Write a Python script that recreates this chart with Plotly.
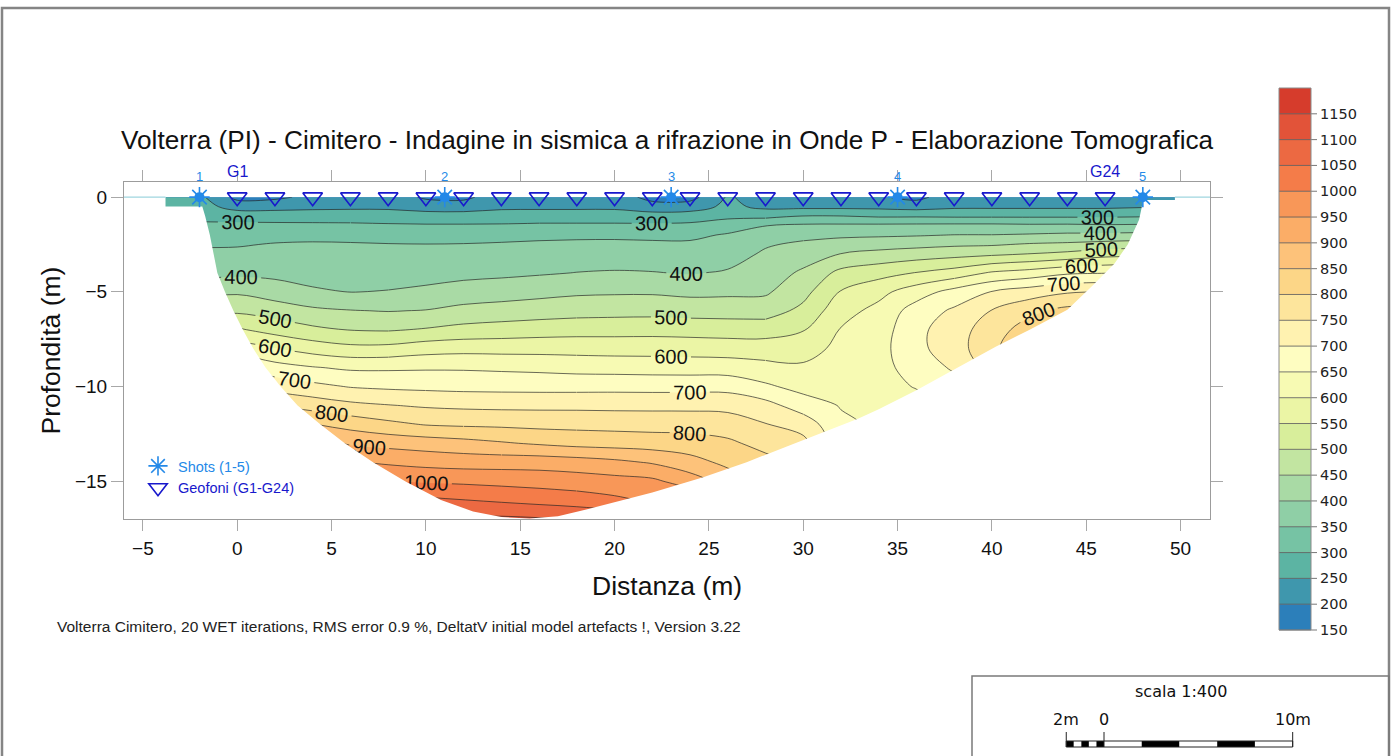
import numpy as np
import plotly.graph_objects as go

# ------------------------------------------------------------------
# Acquisition geometry along the profile (m)
shot_x = [-2.0, 11.0, 23.0, 35.0, 48.0]
shot_names = ["1", "2", "3", "4", "5"]
geophone_x = [0, 2, 4, 6, 8, 10, 12, 14, 16, 18, 20, 22,
              24, 26, 28, 30, 32, 34, 36, 38, 40, 42, 44, 46]
geophone_first, geophone_last = "G1", "G24"

# Tomographic grid: stations (m) and depth samples (m)
station_x = [-6, -4, -2, 0, 2, 4, 6, 8, 10, 12, 14, 16, 18, 20, 22, 24, 26,
             28, 30, 32, 34, 36, 38, 40, 42, 44, 46, 48, 50, 52]
depth_z = [0.0, -0.5, -1.0, -1.5, -2.0, -2.5, -3.0, -4.0, -5.0, -6.0, -7.0,
           -8.0, -9.0, -10.0, -11.0, -12.0, -13.0, -14.0, -15.0, -16.0, -17.0]

# P-wave velocity (m/s) at each station, top to bottom
vp_m6 = [275, 278, 290, 310, 330, 345, 360, 385, 435, 485, 552, 620, 690, 770, 840, 905, 970, 1030, 1085, 1115, 1135]
vp_m4 = [275, 278, 290, 310, 330, 345, 360, 385, 435, 485, 552, 620, 690, 770, 840, 905, 970, 1030, 1085, 1115, 1135]
vp_m2 = [262, 270, 285, 310, 330, 345, 360, 385, 435, 485, 552, 620, 690, 770, 840, 905, 970, 1030, 1085, 1115, 1135]
vp_0 = [185, 230, 280, 311, 329, 346, 361, 389, 443, 491, 556, 625, 702, 779, 852, 912, 975, 1033, 1089, 1120, 1140]
vp_2 = [190, 232, 277, 311, 334, 353, 364, 387, 425, 477, 531, 602, 669, 731, 802, 879, 952, 1013, 1072, 1110, 1130]
vp_4 = [212, 238, 275, 311, 337, 355, 364, 383, 406, 460, 510, 579, 653, 713, 779, 852, 921, 993, 1056, 1108, 1128]
vp_6 = [225, 240, 275, 310, 335, 354, 363, 381, 399, 452, 498, 564, 642, 697, 762, 831, 894, 954, 1029, 1102, 1125]
vp_8 = [228, 240, 273, 307, 331, 352, 362, 381, 402, 448, 495, 565, 642, 691, 752, 812, 884, 942, 1002, 1071, 1115]
vp_10 = [192, 228, 271, 305, 329, 351, 362, 383, 409, 452, 504, 579, 644, 688, 744, 797, 876, 933, 994, 1060, 1110]
vp_12 = [188, 226, 271, 305, 330, 352, 364, 387, 420, 465, 515, 584, 644, 685, 740, 792, 867, 928, 990, 1051, 1109]
vp_14 = [228, 240, 271, 306, 333, 355, 367, 390, 427, 471, 521, 583, 641, 684, 738, 790, 855, 928, 985, 1042, 1110]
vp_16 = [228, 240, 273, 309, 338, 358, 370, 395, 435, 476, 527, 583, 638, 683, 738, 786, 844, 928, 980, 1033, 1105]
vp_18 = [228, 240, 273, 309, 341, 359, 373, 401, 442, 481, 531, 582, 633, 683, 738, 785, 834, 922, 974, 1024, 1098]
vp_20 = [228, 240, 273, 309, 341, 360, 374, 404, 444, 483, 532, 580, 631, 684, 737, 783, 830, 911, 967, 1010, 1083]
vp_22 = [182, 222, 271, 309, 338, 359, 373, 402, 444, 484, 533, 580, 629, 683, 737, 781, 826, 895, 960, 993, 1048]
vp_24 = [182, 225, 275, 311, 339, 358, 371, 397, 438, 480, 531, 578, 628, 683, 737, 780, 822, 868, 925, 983, 1030]
vp_26 = [255, 262, 289, 325, 355, 367, 379, 405, 440, 479, 528, 576, 626, 683, 735, 775, 809, 838, 877, 905, 930]
vp_28 = [228, 238, 286, 349, 373, 395, 407, 425, 443, 477, 528, 575, 615, 658, 717, 752, 784, 815, 840, 860, 880]
vp_30 = [225, 237, 301, 358, 386, 409, 426, 458, 484, 513, 547, 578, 608, 633, 675, 729, 765, 790, 810, 830, 852]
vp_32 = [225, 237, 301, 359, 391, 421, 451, 514, 553, 581, 603, 614, 625, 636, 647, 660, 672, 685, 695, 705, 715]
vp_34 = [205, 236, 293, 360, 393, 429, 465, 532, 585, 615, 625, 632, 636, 638, 640, 642, 644, 646, 647, 648, 648]
vp_36 = [186, 228, 294, 361, 396, 435, 475, 552, 627, 672, 688, 688, 668, 652, 638, 628, 622, 618, 615, 614, 613]
vp_38 = [228, 240, 292, 362, 401, 442, 483, 572, 667, 708, 725, 725, 708, 680, 660, 648, 640, 635, 632, 630, 630]
vp_40 = [228, 240, 292, 362, 401, 445, 491, 606, 702, 752, 778, 790, 770, 740, 715, 702, 690, 685, 680, 678, 676]
vp_42 = [228, 240, 292, 359, 405, 455, 501, 621, 725, 788, 822, 838, 835, 832, 828, 824, 820, 816, 812, 808, 805]
vp_44 = [228, 240, 292, 360, 410, 460, 512, 643, 745, 815, 835, 845, 845, 840, 835, 830, 825, 820, 815, 812, 810]
vp_46 = [228, 240, 292, 356, 411, 469, 531, 648, 751, 815, 840, 845, 845, 840, 835, 830, 825, 820, 815, 812, 810]
vp_48 = [228, 245, 295, 358, 415, 475, 535, 655, 755, 818, 840, 845, 845, 840, 835, 830, 825, 820, 815, 812, 810]
vp_50 = [230, 245, 295, 358, 415, 475, 535, 655, 755, 818, 840, 845, 845, 840, 835, 830, 825, 820, 815, 812, 810]
vp_52 = [230, 245, 295, 358, 415, 475, 535, 655, 755, 818, 840, 845, 845, 840, 835, 830, 825, 820, 815, 812, 810]

# Limit of ray coverage (outline of the resolved section)
coverage_x = [-1.85, -1.7, -1.45, -1.25, -1.05, -0.65, -0.2, 0.3, 0.85, 1.5, 2.3, 3.2, 4.4,
              5.7, 7.2, 8.9, 10.8, 12.5, 14.0, 15.5, 17.0, 18.5, 20.0, 22.0, 24.7, 27.0,
              29.3, 31.0, 32.9, 34.0, 36.0, 38.0, 40.2, 42.0, 44.0, 45.3, 46.5, 47.2, 47.8, 47.95]
coverage_z = [-0.5, -1.0, -2.0, -3.0, -4.0, -5.0, -6.0, -7.0, -8.0, -9.0, -10.0, -11.0, -12.0,
              -13.0, -14.0, -15.0, -16.0, -16.6, -16.9, -16.97, -16.85, -16.5, -16.1, -15.6, -14.8, -14.0,
              -13.1, -12.45, -11.7, -11.2, -10.2, -9.1, -7.9, -7.0, -5.95, -4.7, -3.5, -2.5, -1.2, -0.5]
# shallow pads at both ends of the line
pad_left_x, pad_left_z = -3.8, -0.5
pad_right_x, pad_right_z = 49.7, -0.15
# ground surface outside the section
topo_left_x = [-6.0, -3.8]
topo_right_x = [49.7, 51.6]

# Velocity classes (m/s) and their colours
vp_levels = [150, 200, 250, 300, 350, 400, 450, 500, 550, 600, 650,
             700, 750, 800, 850, 900, 950, 1000, 1050, 1100, 1150, 1200]
vp_colors = ["#2c7fba", "#3f97ad", "#5cb4a3", "#76c3a4", "#8fcfa6", "#a9daa5", "#c2e5a1",
             "#d8ee9b", "#ebf5a5", "#f7fab3", "#fefdc1", "#fff2b0", "#fde59c", "#fcd687",
             "#fdc27a", "#fbad67", "#f89758", "#f47c49", "#ec6942", "#e25339", "#d63c2c"]
labelled_levels = [300, 400, 500, 600, 700, 800, 900, 1000]

# ------------------------------------------------------------------
FIG_W, FIG_H = 1394, 756
M_L, M_R, M_T, M_B = 124, 184, 182, 237
PLOT_W = FIG_W - M_L - M_R
PLOT_H = FIG_H - M_T - M_B
X_RANGE = [-6.0, 51.56]
Y_RANGE = [-17.0, 0.8]
PX_PER_M = PLOT_W / (X_RANGE[1] - X_RANGE[0])


def px_x(px):
    return (px - M_L) / PLOT_W


def px_y(py):
    return (FIG_H - M_B - py) / PLOT_H


ARIAL = "Liberation Sans, Arial, sans-serif"
VERDANA = "DejaVu Sans, Verdana, sans-serif"
LINE_COLOR = "rgba(35,35,35,0.85)"

columns = [vp_m6, vp_m4, vp_m2, vp_0, vp_2, vp_4, vp_6, vp_8, vp_10, vp_12, vp_14, vp_16,
           vp_18, vp_20, vp_22, vp_24, vp_26, vp_28, vp_30, vp_32, vp_34, vp_36,
           vp_38, vp_40, vp_42, vp_44, vp_46, vp_48, vp_50, vp_52]
grid = np.array(columns, dtype=float).T          # rows = depth (top->bottom)
y_up = depth_z[::-1]
grid_up = grid[::-1, :]

# stepped colour scale: one flat step per velocity class
samples = [vp_colors[0]] + vp_colors
n_steps = len(samples) - 1
fill_scale = []
for j, c in enumerate(samples):
    fill_scale.append([max(0.0, (j - 0.5) / n_steps), c])
    fill_scale.append([min(1.0, (j + 0.5) / n_steps), c])

fig = go.Figure()

# filled velocity classes
fig.add_trace(go.Contour(
    x=station_x, y=y_up, z=grid_up,
    colorscale=fill_scale, showscale=False, hoverinfo="skip", showlegend=False,
    contours=dict(start=vp_levels[0], end=vp_levels[-2], size=50,
                  coloring="fill", showlines=False),
    line=dict(width=0, smoothing=1),
))

# unlabelled isolines (odd 50s, plus 200 and 1100)
for start, end, size in [(250, 1150, 100), (200, 1100, 900)]:
    fig.add_trace(go.Contour(
        x=station_x, y=y_up, z=grid_up, showscale=False, hoverinfo="skip", showlegend=False,
        contours=dict(start=start, end=end, size=size, coloring="none"),
        line=dict(color=LINE_COLOR, width=0.8, smoothing=1),
    ))

# labelled isolines, split along the profile so labels sit where wanted
label_windows = {
    300: [(-6, 6, True), (6, 16, False), (16, 28, True), (28, 40, False), (40, 52, True)],
    400: [(-6, 8, True), (8, 16, False), (16, 30, True), (30, 40, False), (40, 52, True)],
    500: [(-6, -4, False), (-4, 8, True), (8, 18, False), (18, 28, True), (28, 40, False), (40, 52, True)],
    600: [(-6, -4, False), (-4, 8, True), (8, 18, False), (18, 28, True), (28, 38, False), (38, 52, True)],
    700: [(-6, -4, False), (-4, 10, True), (10, 18, False), (18, 30, True), (30, 36, False), (36, 52, True)],
    800: [(-6, -2, False), (-2, 12, True), (12, 18, False), (18, 30, True), (30, 32, False),
          (32, 46, True), (46, 52, False)],
    900: [(-6, 0, False), (0, 14, True), (14, 52, False)],
    1000: [(-6, 2, False), (2, 18, True), (18, 52, False)],
}
for level in labelled_levels:
    for lo, hi, with_label in label_windows[level]:
        idx = [i for i, xv in enumerate(station_x) if lo <= xv <= hi]
        fig.add_trace(go.Contour(
            x=[station_x[i] for i in idx], y=y_up, z=grid_up[:, idx],
            showscale=False, hoverinfo="skip", showlegend=False,
            contours=dict(start=level, end=level, size=100, coloring="none",
                          showlabels=with_label, labelformat="d",
                          labelfont=dict(family=ARIAL, size=20, color="#111111")),
            line=dict(color=LINE_COLOR, width=0.8, smoothing=1),
        ))

# blank out everything outside the ray coverage
outer_top, outer_bottom = 0.3, -18.0
outer_left, outer_right = -7.0, 53.0
mask_x = ([outer_left, pad_left_x, pad_left_x] + coverage_x +
          [pad_right_x - 1.7, pad_right_x, pad_right_x, outer_right, outer_right, outer_left, outer_left])
mask_y = ([outer_top, outer_top, pad_left_z] + coverage_z +
          [pad_right_z, pad_right_z, outer_top, outer_top, outer_bottom, outer_bottom, outer_top])
fig.add_trace(go.Scatter(x=mask_x, y=mask_y, mode="lines", fill="toself",
                         fillcolor="white", line=dict(width=0), hoverinfo="skip",
                         showlegend=False))

# ground surface outside the section
for seg in (topo_left_x, topo_right_x):
    fig.add_trace(go.Scatter(x=seg, y=[0, 0], mode="lines",
                             line=dict(color="#9fd6df", width=1.2),
                             hoverinfo="skip", showlegend=False))

SHOT_COLOR = "#2489e8"
GEO_COLOR = "#1818cc"
fig.add_trace(go.Scatter(
    x=geophone_x, y=[0] * len(geophone_x), mode="markers",
    marker=dict(symbol="triangle-down-open", size=17, color=GEO_COLOR, line=dict(width=1.6)),
    name=f"<span style='color:{GEO_COLOR}'>Geofoni (G1-G24)</span>", hoverinfo="skip",
))
fig.add_trace(go.Scatter(
    x=shot_x, y=[0] * len(shot_x), mode="markers",
    marker=dict(symbol="circle", size=10, color=SHOT_COLOR),
    showlegend=False, hoverinfo="skip",
))
fig.add_trace(go.Scatter(
    x=shot_x, y=[0] * len(shot_x), mode="markers",
    marker=dict(symbol="asterisk-open", size=17, color=SHOT_COLOR, line=dict(width=1.6, color=SHOT_COLOR)),
    name=f"<span style='color:{SHOT_COLOR}'>Shots (1-5)</span>", hoverinfo="skip",
))

annotations = []
for sx, sn in zip(shot_x, shot_names):
    annotations.append(dict(x=sx, y=0, xref="x", yref="y", text=sn, showarrow=False,
                            yshift=21, font=dict(family=ARIAL, size=13, color=SHOT_COLOR)))
for gx, gn in ((geophone_x[0], geophone_first), (geophone_x[-1], geophone_last)):
    annotations.append(dict(x=gx, y=0, xref="x", yref="y", text=gn, showarrow=False,
                            yshift=26, font=dict(family=ARIAL, size=16, color=GEO_COLOR)))

# titles
annotations.append(dict(
    x=0.5, y=px_y(140), xref="paper", yref="paper", showarrow=False,
    text="Volterra (PI) - Cimitero - Indagine in sismica a rifrazione in Onde P - Elaborazione Tomografica",
    font=dict(family=ARIAL, size=26.2, color="#111111"), xanchor="center", yanchor="middle"))
annotations.append(dict(x=0.5, y=px_y(586), xref="paper", yref="paper", showarrow=False,
                        text="Distanza (m)", font=dict(family=ARIAL, size=26.5, color="#111111"),
                        xanchor="center", yanchor="middle"))
annotations.append(dict(x=px_x(50), y=0.5, xref="paper", yref="paper", showarrow=False,
                        text="Profondità (m)", textangle=-90,
                        font=dict(family=ARIAL, size=26.5, color="#111111"),
                        xanchor="center", yanchor="middle"))
annotations.append(dict(
    x=px_x(55), y=px_y(626), xref="paper", yref="paper", showarrow=False,
    text="Volterra Cimitero, 20 WET iterations, RMS error 0.9 %, DeltatV initial model artefacts !, Version 3.22",
    font=dict(family=ARIAL, size=15.5, color="#222222"), xanchor="left", yanchor="middle"))

shapes = []
# colour bar
CB_LEFT, CB_WIDTH, CB_BOTTOM, CB_TOP = 1279, 32, 630, 88
band_px = (CB_BOTTOM - CB_TOP) / (vp_levels[-1] - vp_levels[0])


def level_py(v):
    return CB_BOTTOM - (v - vp_levels[0]) * band_px


for k, c in enumerate(vp_colors):
    shapes.append(dict(type="rect", xref="paper", yref="paper",
                       x0=px_x(CB_LEFT), x1=px_x(CB_LEFT + CB_WIDTH),
                       y0=px_y(level_py(vp_levels[k])), y1=px_y(level_py(vp_levels[k + 1])),
                       fillcolor=c, line=dict(width=0), layer="above"))
for v in vp_levels[:-1]:
    shapes.append(dict(type="line", xref="paper", yref="paper",
                       x0=px_x(CB_LEFT), x1=px_x(CB_LEFT + CB_WIDTH + 6),
                       y0=px_y(level_py(v)), y1=px_y(level_py(v)),
                       line=dict(color="#555555", width=0.8), layer="above"))
    annotations.append(dict(x=px_x(CB_LEFT + CB_WIDTH + 7), y=px_y(level_py(v)),
                            xref="paper", yref="paper", text=str(v), showarrow=False,
                            xanchor="left", yanchor="middle",
                            font=dict(family=VERDANA, size=14.5, color="#222222")))
shapes.append(dict(type="rect", xref="paper", yref="paper",
                   x0=px_x(CB_LEFT), x1=px_x(CB_LEFT + CB_WIDTH),
                   y0=px_y(CB_BOTTOM), y1=px_y(CB_TOP),
                   line=dict(color="#8a8a8a", width=1), layer="above"))

# page border and scale box
shapes.append(dict(type="rect", xref="paper", yref="paper",
                   x0=px_x(2), x1=px_x(1389), y0=px_y(770), y1=px_y(8),
                   line=dict(color="#858585", width=2.5)))
shapes.append(dict(type="rect", xref="paper", yref="paper",
                   x0=px_x(972), x1=px_x(1389), y0=px_y(770), y1=px_y(676),
                   line=dict(color="#7a7a7a", width=1.5)))

# graphic scale 1:400, same metres-per-pixel as the section
SB_ZERO_PX = 1104
SB_Y0, SB_Y1 = 741, 747
scale_left_m, scale_left_parts = 2.0, 5
scale_right_m, scale_right_parts = 10.0, 5
blocks = []
step = scale_left_m / scale_left_parts
for k in range(scale_left_parts):
    blocks.append((-scale_left_m + k * step, -scale_left_m + (k + 1) * step, k % 2 == 0))
step = scale_right_m / scale_right_parts
for k in range(scale_right_parts):
    blocks.append((k * step, (k + 1) * step, k % 2 == 1))
for m0, m1, dark in blocks:
    shapes.append(dict(type="rect", xref="paper", yref="paper",
                       x0=px_x(SB_ZERO_PX + m0 * PX_PER_M), x1=px_x(SB_ZERO_PX + m1 * PX_PER_M),
                       y0=px_y(SB_Y1), y1=px_y(SB_Y0),
                       fillcolor="black" if dark else "white", line=dict(width=0)))
shapes.append(dict(type="rect", xref="paper", yref="paper",
                   x0=px_x(SB_ZERO_PX - scale_left_m * PX_PER_M),
                   x1=px_x(SB_ZERO_PX + scale_right_m * PX_PER_M),
                   y0=px_y(SB_Y1), y1=px_y(SB_Y0), line=dict(color="#222222", width=1)))
for m, txt in ((-scale_left_m, "2m"), (0.0, "0"), (scale_right_m, "10m")):
    xp = SB_ZERO_PX + m * PX_PER_M
    shapes.append(dict(type="line", xref="paper", yref="paper",
                       x0=px_x(xp), x1=px_x(xp), y0=px_y(SB_Y1), y1=px_y(732),
                       line=dict(color="#222222", width=1)))
    annotations.append(dict(x=px_x(xp), y=px_y(719), xref="paper", yref="paper", text=txt,
                            showarrow=False, xanchor="center", yanchor="middle",
                            font=dict(family=VERDANA, size=16, color="#111111")))
annotations.append(dict(x=px_x((972 + 1389) / 2), y=px_y(691), xref="paper", yref="paper",
                        text="scala 1:400", showarrow=False, xanchor="center", yanchor="middle",
                        font=dict(family=VERDANA, size=16, color="#111111")))

axis_common = dict(showgrid=False, zeroline=False, showline=True, linecolor="#9c9c9c",
                   linewidth=1, mirror="ticks", ticks="outside", tickcolor="#a8a8a8",
                   tickfont=dict(family=ARIAL, size=19, color="#111111"))
fig.update_layout(
    width=FIG_W, height=FIG_H, autosize=False,
    margin=dict(l=M_L, r=M_R, t=M_T, b=M_B),
    paper_bgcolor="white", plot_bgcolor="white",
    xaxis=dict(range=X_RANGE, tickvals=[-5, 0, 5, 10, 15, 20, 25, 30, 35, 40, 45, 50],
               ticklen=11, ticklabelstandoff=1, **axis_common),
    yaxis=dict(range=Y_RANGE, tickvals=[0, -5, -10, -15], ticklen=12, **axis_common),
    legend=dict(x=px_x(138), y=px_y(450), xanchor="left", yanchor="top",
                bgcolor="rgba(0,0,0,0)", font=dict(family=ARIAL, size=14.5),
                traceorder="reversed", itemwidth=30, tracegroupgap=0),
    shapes=shapes, annotations=annotations,
)

fig.write_html("out.html", config={"displayModeBar": False})
